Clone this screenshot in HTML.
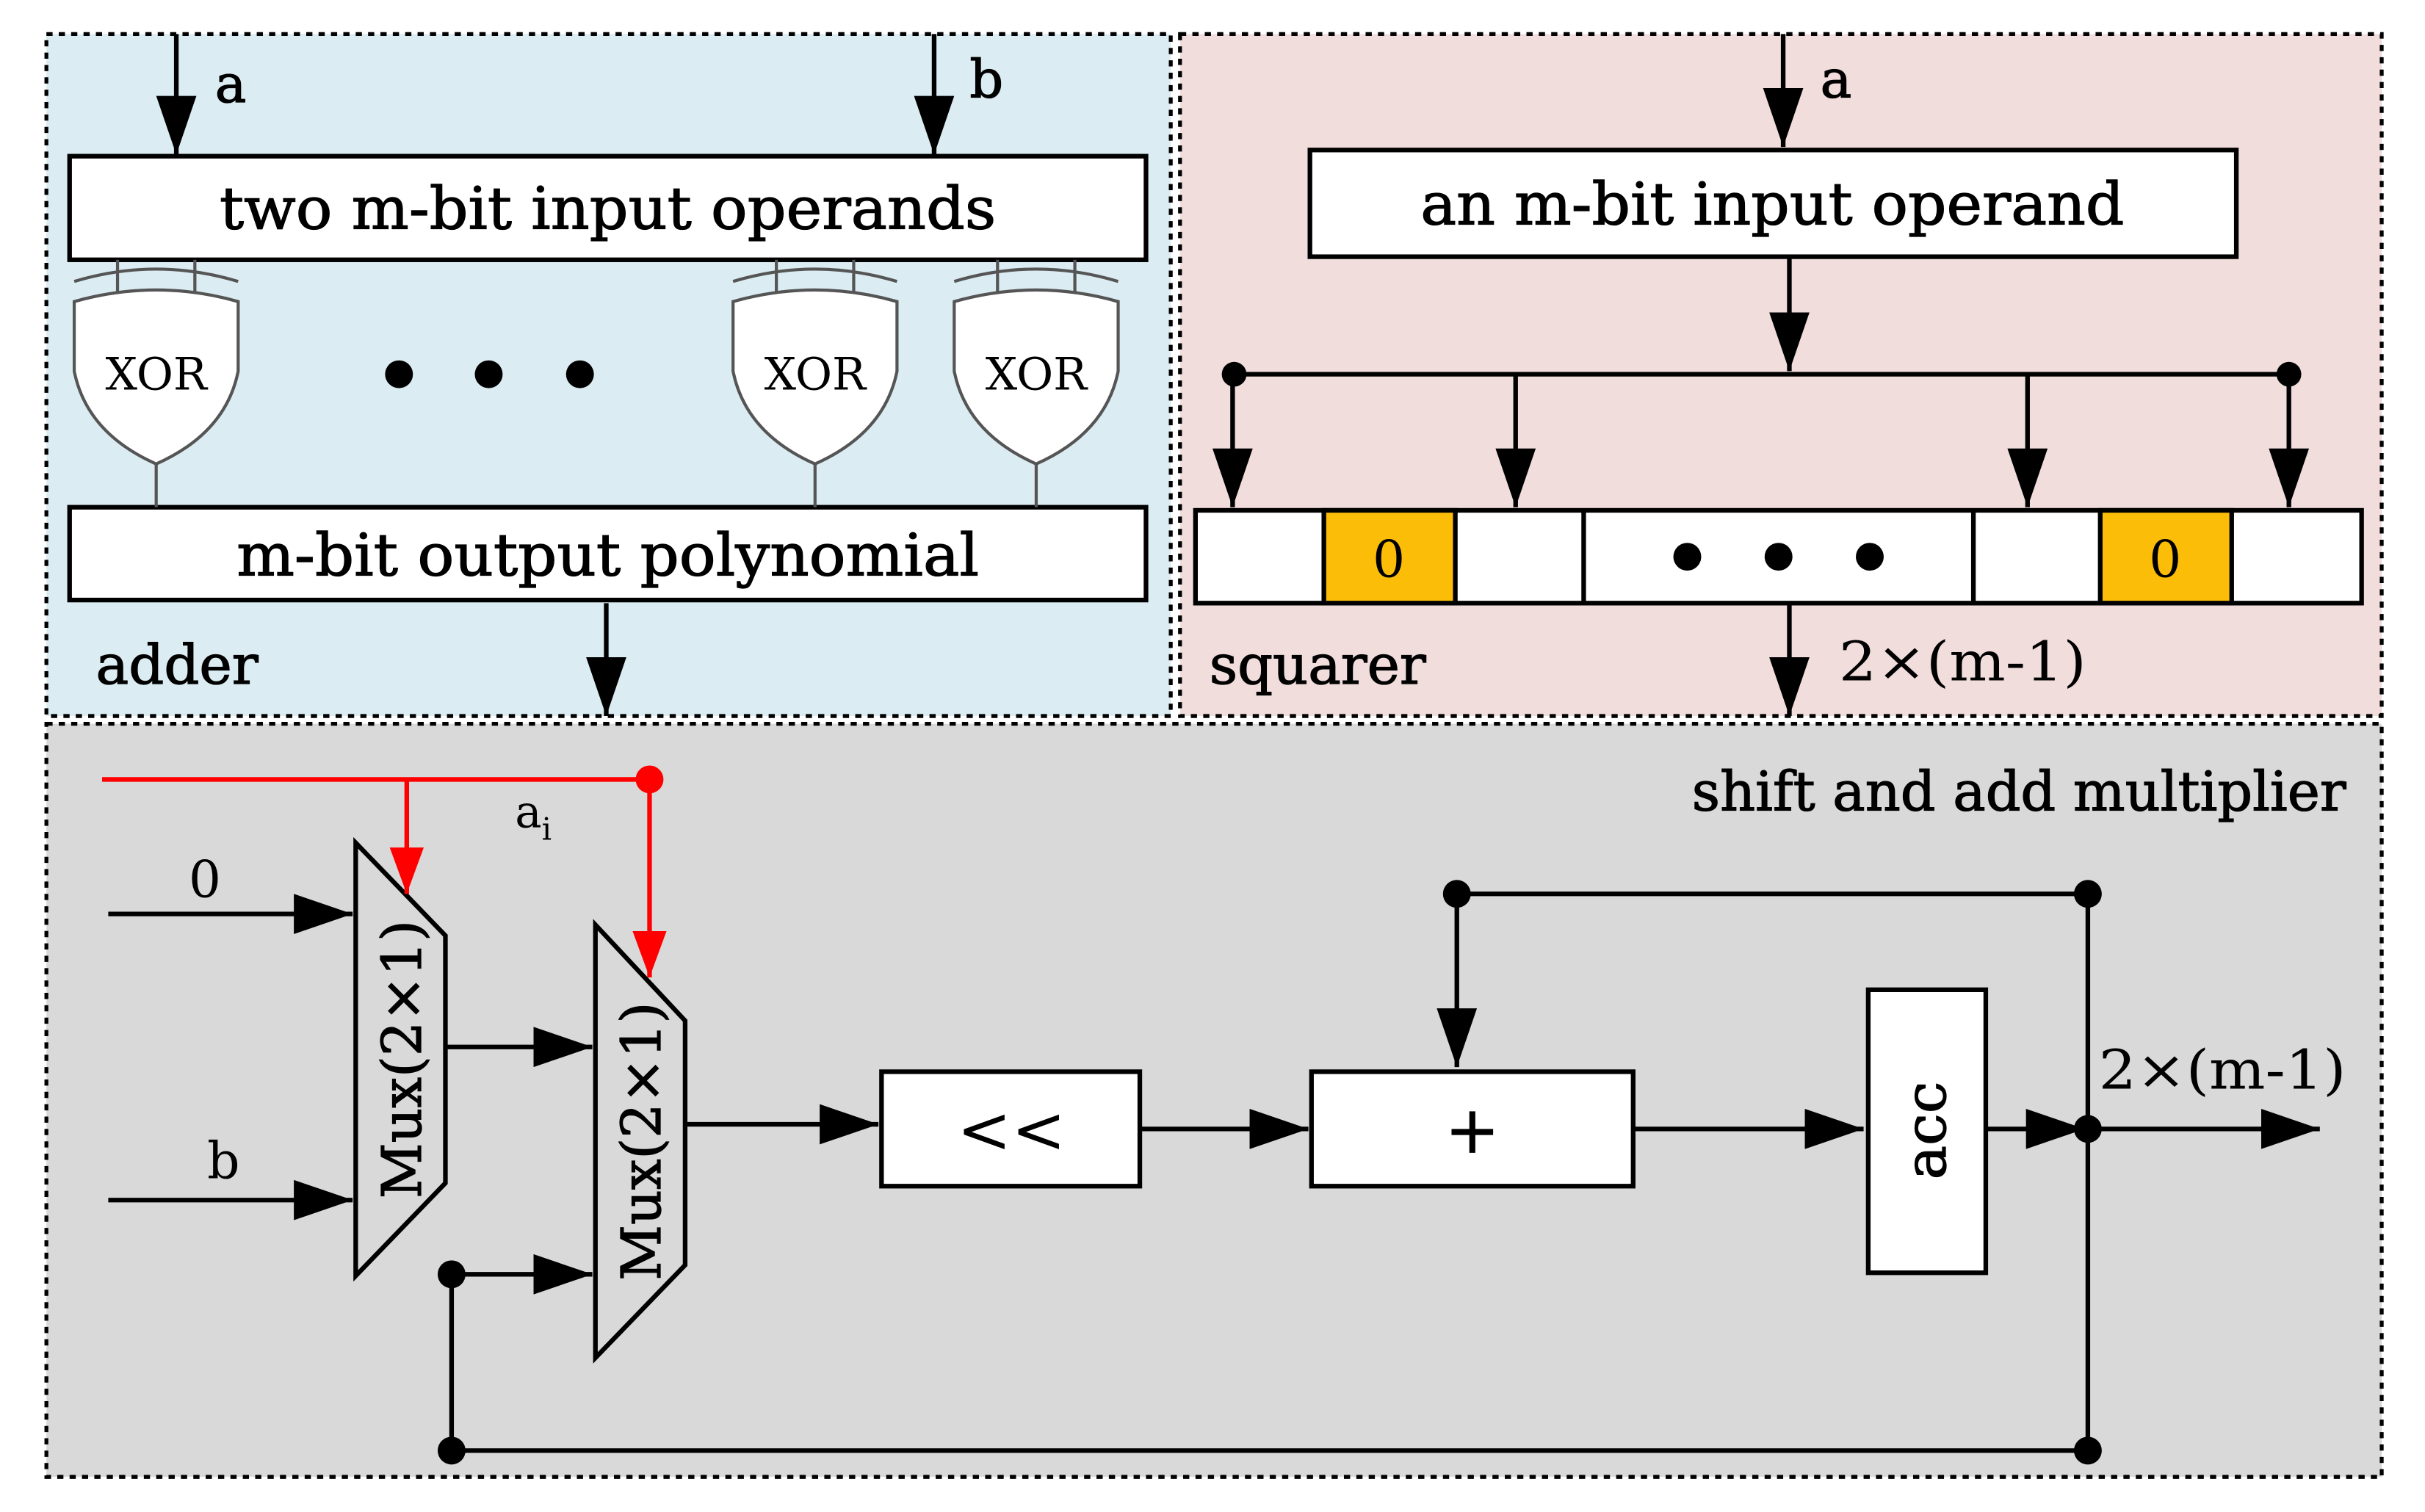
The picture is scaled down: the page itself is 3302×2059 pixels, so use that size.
<!DOCTYPE html>
<html><head><meta charset="utf-8"><style>html,body{margin:0;padding:0;background:#fff}svg{display:block}</style></head>
<body>
<svg width="3302" height="2059" viewBox="0 0 1568 977.7" preserveAspectRatio="none" xmlns="http://www.w3.org/2000/svg" font-family="'DejaVu Serif', 'Liberation Serif', serif">
<defs>
<marker id="ab" viewBox="0 0 10 10" refX="10" refY="5" markerWidth="38" markerHeight="26" orient="auto" markerUnits="userSpaceOnUse" preserveAspectRatio="none"><path d="M0,0 L10,5 L0,10 z" fill="#000"/></marker>
<marker id="ar2" viewBox="0 0 10 10" refX="10" refY="5" markerWidth="30" markerHeight="22" orient="auto" markerUnits="userSpaceOnUse" preserveAspectRatio="none"><path d="M0,0 L10,5 L0,10 z" fill="#f00"/></marker>
</defs>
<rect x="0" y="0" width="1568" height="977.7" fill="#fff"/>
<rect x="30" y="22" width="727" height="441" fill="#dbecf2" stroke="#000" stroke-width="2.5" stroke-dasharray="4,4"/>
<rect x="763" y="22" width="777" height="441" fill="#f1dddc" stroke="#000" stroke-width="2.5" stroke-dasharray="4,4"/>
<rect x="30" y="468" width="1510" height="487" fill="#d9d9d9" stroke="#000" stroke-width="2.5" stroke-dasharray="4,4"/>
<g stroke="#000" stroke-width="3" fill="none">
<line x1="114" y1="22" x2="114" y2="100" marker-end="url(#ab)"/>
<line x1="604" y1="22" x2="604" y2="100" marker-end="url(#ab)"/>
<rect x="45" y="101" width="696" height="67" fill="#fff"/>
<rect x="45" y="328" width="696" height="60" fill="#fff"/>
<line x1="392" y1="390" x2="392" y2="463" marker-end="url(#ab)"/>
<line x1="1153" y1="22" x2="1153" y2="95" marker-end="url(#ab)"/>
<rect x="847" y="97" width="599" height="69" fill="#fff"/>
<line x1="1157" y1="166" x2="1157" y2="240" marker-end="url(#ab)"/>
<line x1="798" y1="242" x2="1480" y2="242"/>
<line x1="797" y1="242" x2="797" y2="328" marker-end="url(#ab)"/>
<line x1="980" y1="242" x2="980" y2="328" marker-end="url(#ab)"/>
<line x1="1311" y1="242" x2="1311" y2="328" marker-end="url(#ab)"/>
<line x1="1480" y1="242" x2="1480" y2="328" marker-end="url(#ab)"/>
<rect x="773" y="330" width="754" height="60" fill="#fff"/>
<rect x="856" y="330" width="85" height="60" fill="#fbbd08"/>
<rect x="1358" y="330" width="85" height="60" fill="#fbbd08"/>
<line x1="1024" y1="330" x2="1024" y2="390"/>
<line x1="1276" y1="330" x2="1276" y2="390"/>
<line x1="1157" y1="390" x2="1157" y2="463" marker-end="url(#ab)"/>
<line x1="70" y1="591" x2="228" y2="591" marker-end="url(#ab)"/>
<line x1="70" y1="776" x2="228" y2="776" marker-end="url(#ab)"/>
<polygon points="230,545 288,605 288,765 230,825" fill="none"/>
<polygon points="385,598 443,660 443,818 385,878" fill="none"/>
<line x1="288" y1="677" x2="383" y2="677" marker-end="url(#ab)"/>
<line x1="292" y1="824" x2="383" y2="824" marker-end="url(#ab)"/>
<line x1="292" y1="824" x2="292" y2="938"/>
<line x1="292" y1="938" x2="1350" y2="938"/>
<line x1="443" y1="727" x2="568" y2="727" marker-end="url(#ab)"/>
<rect x="570" y="693" width="167" height="74" fill="#fff"/>
<line x1="737" y1="730" x2="846" y2="730" marker-end="url(#ab)"/>
<rect x="848" y="693" width="208" height="74" fill="#fff"/>
<line x1="1056" y1="730" x2="1205" y2="730" marker-end="url(#ab)"/>
<rect x="1208" y="640" width="76" height="183" fill="#fff"/>
<line x1="1284" y1="730" x2="1348" y2="730" marker-end="url(#ab)"/>
<line x1="1350" y1="730" x2="1500" y2="730" marker-end="url(#ab)"/>
<line x1="1350" y1="578" x2="1350" y2="938"/>
<line x1="942" y1="578" x2="1350" y2="578"/>
<line x1="942" y1="578" x2="942" y2="690" marker-end="url(#ab)"/>
</g>
<g stroke="#555" stroke-width="2" fill="#fff">
<g transform="translate(101,0)">
<line x1="-25" y1="168" x2="-25" y2="195"/><line x1="25" y1="168" x2="25" y2="195"/>
<path d="M-53,182 Q0,166 53,182" fill="none"/>
<path d="M-53,195 Q0,180 53,195 L53,240 Q45,280 0,300 Q-45,280 -53,240 Z"/>
<line x1="0" y1="300" x2="0" y2="328"/>
</g>
<g transform="translate(527,0)">
<line x1="-25" y1="168" x2="-25" y2="195"/><line x1="25" y1="168" x2="25" y2="195"/>
<path d="M-53,182 Q0,166 53,182" fill="none"/>
<path d="M-53,195 Q0,180 53,195 L53,240 Q45,280 0,300 Q-45,280 -53,240 Z"/>
<line x1="0" y1="300" x2="0" y2="328"/>
</g>
<g transform="translate(670,0)">
<line x1="-25" y1="168" x2="-25" y2="195"/><line x1="25" y1="168" x2="25" y2="195"/>
<path d="M-53,182 Q0,166 53,182" fill="none"/>
<path d="M-53,195 Q0,180 53,195 L53,240 Q45,280 0,300 Q-45,280 -53,240 Z"/>
<line x1="0" y1="300" x2="0" y2="328"/>
</g>
</g>
<g stroke="#f00" stroke-width="3" fill="none">
<line x1="66" y1="504" x2="420" y2="504"/>
<line x1="263" y1="504" x2="263" y2="578" marker-end="url(#ar2)"/>
<line x1="420" y1="504" x2="420" y2="632" marker-end="url(#ar2)"/>
</g>
<circle cx="420" cy="504" r="9" fill="#f00"/>
<g fill="#000">
<circle cx="258" cy="242" r="9"/><circle cx="316" cy="242" r="9"/><circle cx="375" cy="242" r="9"/>
<circle cx="798" cy="242" r="8"/><circle cx="1480" cy="242" r="8"/>
<circle cx="1091" cy="360" r="9"/><circle cx="1150" cy="360" r="9"/><circle cx="1209" cy="360" r="9"/>
<circle cx="292" cy="824" r="9"/><circle cx="292" cy="938" r="9"/><circle cx="1350" cy="938" r="9"/>
<circle cx="942" cy="578" r="9"/><circle cx="1350" cy="578" r="9"/><circle cx="1350" cy="730" r="9"/>
</g>
<g fill="#000" stroke="#000" stroke-width="0.6">
<text x="139" y="66" font-size="34">a</text>
<text x="627" y="63" font-size="34">b</text>
<text x="393" y="148" text-anchor="middle" font-size="38" textLength="502" lengthAdjust="spacingAndGlyphs">two m-bit input operands</text>
<text x="393" y="372" text-anchor="middle" font-size="38" textLength="480" lengthAdjust="spacingAndGlyphs">m-bit output polynomial</text>
<text x="62" y="442" font-size="35" textLength="105" lengthAdjust="spacingAndGlyphs">adder</text>
<text x="101" y="252" text-anchor="middle" font-size="29" stroke="none">XOR</text>
<text x="527" y="252" text-anchor="middle" font-size="29" stroke="none">XOR</text>
<text x="670" y="252" text-anchor="middle" font-size="29" stroke="none">XOR</text>
<text x="1177" y="63" font-size="34">a</text>
<text x="1146" y="145" text-anchor="middle" font-size="38" textLength="455" lengthAdjust="spacingAndGlyphs">an m-bit input operand</text>
<text x="898" y="373" text-anchor="middle" font-size="33" stroke="none">0</text>
<text x="1400" y="373" text-anchor="middle" font-size="33" stroke="none">0</text>
<text x="782" y="442" font-size="35" textLength="140" lengthAdjust="spacingAndGlyphs">squarer</text>
<text x="1189" y="440" font-size="35" stroke="none" textLength="160" lengthAdjust="spacingAndGlyphs">2×(m-1)</text>
<text x="1517" y="524" text-anchor="end" font-size="35" textLength="423" lengthAdjust="spacingAndGlyphs">shift and add multiplier</text>
<text x="333" y="535" font-size="29" stroke="none">a<tspan font-size="20" dy="8">i</tspan></text>
<text x="122" y="580" font-size="33" stroke="none">0</text>
<text x="134" y="762" font-size="33" stroke="none">b</text>
<text transform="translate(272,685) rotate(-90)" text-anchor="middle" font-size="35" textLength="180" lengthAdjust="spacingAndGlyphs">Mux(2×1)</text>
<text transform="translate(427,738) rotate(-90)" text-anchor="middle" font-size="35" textLength="180" lengthAdjust="spacingAndGlyphs">Mux(2×1)</text>
<text x="654" y="745" text-anchor="middle" font-size="42" stroke="none">&lt;&lt;</text>
<text x="952" y="745" text-anchor="middle" font-size="42">+</text>
<text transform="translate(1258,731) rotate(-90)" text-anchor="middle" font-size="37">acc</text>
<text x="1357" y="704" font-size="35" stroke="none" textLength="160" lengthAdjust="spacingAndGlyphs">2×(m-1)</text>
</g>
</svg>
</body></html>
